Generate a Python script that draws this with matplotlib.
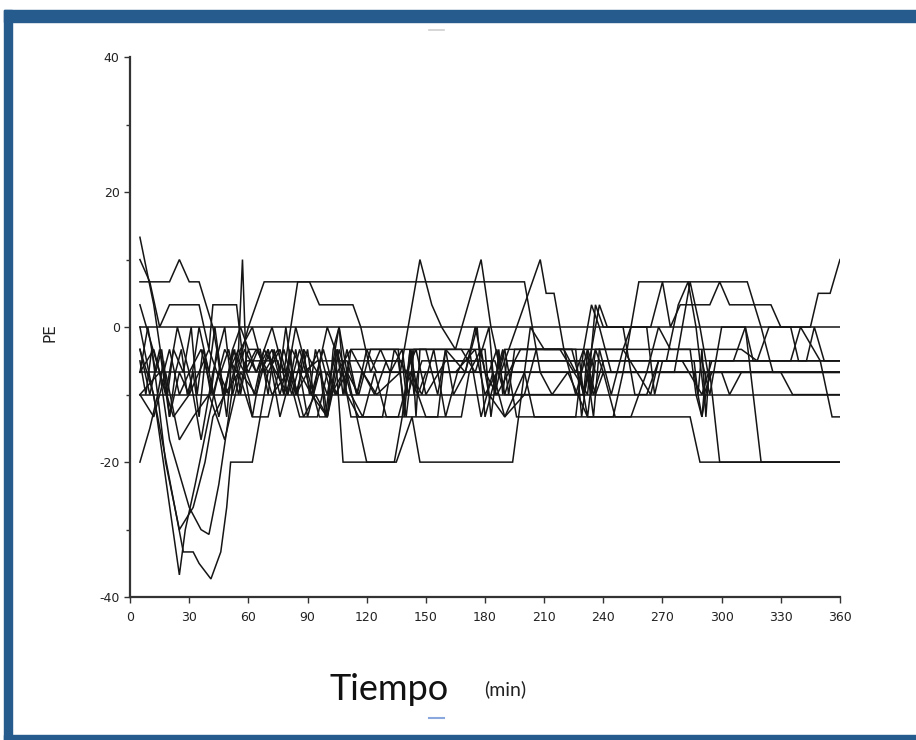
import matplotlib
matplotlib.use("Agg")
import matplotlib.pyplot as plt
from matplotlib.patches import Rectangle

# each series: vertex times (min) and PE values
a_t = [5, 12, 17, 20, 25, 30, 36, 42, 48, 54, 60, 68, 200, 204, 208, 214, 222, 232, 245, 250, 254, 258, 313, 320, 326, 360]
a_v = [13.3, 3.3, -6.7, -3.3, -10, -6.7, -3.3, -10, -3.3, -6.7, 0, 6.7, 6.7, 0, -6.7, -10, -6.7, -13.3, -13.3, -6.7, 0, 6.7, 6.7, 0, -6.7, -6.7]

b_t = [5, 360]
b_v = [0, 0]
c_t = [5, 360]
c_v = [-6.7, -6.7]
d_t = [5, 360]
d_v = [-10, -10]

e_t = [5, 10, 20, 25, 30, 35, 42, 46, 50, 55, 60, 64, 70, 76, 82, 88, 95, 110, 115, 120, 125, 140, 145, 150, 160, 185, 190, 195, 230, 235, 240, 280, 290, 295, 335, 340, 350, 360]
e_v = [10, 6.7, 6.7, 10, 6.7, 6.7, 0, -6.7, -3.3, -10, -3.3, -6.7, -3.3, -10, -3.3, -6.7, -5, -5, -10, -3.3, -6.7, -6.7, -3.3, -10, -5, -5, -10, -5, -5, -10, -5, -5, -10, -5, -5, 0, -5, -5]

f_t = [5, 10, 15, 20, 35, 40, 42, 54, 58, 62, 66, 72, 78, 84, 90, 96, 100, 105, 110, 116, 168, 172, 178, 182, 190, 200, 205, 284, 289, 360]
f_v = [6.7, 6.7, 0, 3.3, 3.3, -3.3, 3.3, 3.3, -6.7, -13.3, -6.7, -3.3, -10, 0, -6.7, -13.3, -13.3, -3.3, -10, -13.3, -13.3, -6.7, -3.3, -10, -13.3, -6.7, -13.3, -13.3, -20, -20]

g_t = [5, 10, 15, 20, 25, 30, 35, 40, 45, 50, 55, 57, 59, 63, 68, 74, 80, 84, 90, 96, 100, 106, 110, 115, 120, 134, 138, 142, 146, 150, 165, 175, 180, 186, 228, 232, 236, 240, 286, 290, 294, 299, 360]
g_v = [-3.3, -10, -3.3, -13.3, -6.7, -10, 0, -6.7, -13.3, -6.7, -3.3, 10, -6.7, -10, -3.3, -6.7, -10, -3.3, -13.3, -6.7, -10, 0, -6.7, -13.3, -20, -20, -13.3, -3.3, -10, -6.7, -6.7, -3.3, -10, -6.7, -6.7, -13.3, -3.3, -6.7, -6.7, -13.3, -6.7, -20, -20]

h_t = [5, 12, 18, 24, 30, 36, 42, 48, 52, 58, 64, 72, 78, 85, 91, 96, 113, 117, 122, 127, 132, 138, 141, 144, 182, 186, 190, 230, 234, 238, 242, 262, 266, 270, 274, 290, 294, 300, 312, 320, 360]
h_v = [-6.7, -3.3, -10, 0, -6.7, -16.7, -6.7, 0, -10, -3.3, -6.7, 0, -6.7, 6.7, 6.7, 3.3, 3.3, 0, -6.7, -3.3, -6.7, -3.3, -10, -6.7, -6.7, -3.3, -10, -10, -3.3, 3.3, 0, 0, -10, -5, -5, -5, -10, 0, 0, -20, -20]

i_t = [5, 12, 25, 28, 33, 40, 45, 50, 55, 60, 65, 72, 80, 86, 95, 100, 105, 110, 115, 118, 125, 137, 147, 153, 158, 165, 178, 183, 188, 208, 211, 215, 220, 226, 232, 236, 260, 276, 280, 284, 289, 293, 300, 304, 310, 360]
i_v = [-3.3, -10, -36.7, -30, -23.3, -13.3, -6.7, -10, -3.3, -6.7, -3.3, -10, -6.7, -13.3, -13.3, -6.7, -10, -3.3, -10, -6.7, -10, -6.7, 10, 3.3, 0, -3.3, 10, 0, -6.7, 10, 5, 5, -3.3, -10, -3.3, -6.7, -6.7, -6.7, 0, 6.7, 0, -6.7, -6.7, -10, -6.7, -6.7]

j_t = [5, 14, 27, 32, 35, 41, 46, 49, 51, 62, 66, 70, 76, 82, 88, 95, 100, 104, 108, 135, 143, 147, 194, 203, 210, 218, 232, 236, 240, 250, 256, 262, 268, 272, 278, 283, 287, 291, 295, 360]
j_v = [0, -13.3, -33.3, -33.3, -35, -37.3, -33.3, -26.7, -20, -20, -13.3, -6.7, -3.3, -10, -3.3, -6.7, 0, -3.3, -20, -20, -13.3, -20, -20, 0, -3.3, -3.3, -10, 3.3, 0, 0, -10, -10, -5, -5, 3.3, 6.7, 0, -10, -6.7, -6.7]

k_t = [5, 15, 20, 30, 36, 40, 45, 50, 53, 56, 62, 68, 75, 80, 86, 92, 98, 104, 110, 116, 122, 140, 150, 156, 160, 170, 175, 180, 186, 192, 198, 238, 244, 250, 254, 264, 270, 274, 279, 294, 299, 304, 325, 330, 335, 339, 343, 347, 352, 360]
k_v = [3.3, -6.7, -16.7, -26.7, -30, -30.7, -23.3, -13.3, -6.7, -3.3, 0, -6.7, -3.3, -10, -3.3, -10, -3.3, -10, -6.7, -10, -3.3, -3.3, -3.3, -10, -3.3, -6.7, 0, -6.7, -10, -6.7, -3.3, -3.3, -10, -3.3, 0, 0, 6.7, 0, 3.3, 3.3, 6.7, 3.3, 3.3, 0, 0, -5, -5, 0, -5, -5]

l_t = [5, 10, 14, 18, 25, 32, 38, 42, 48, 52, 58, 64, 70, 86, 92, 100, 105, 112, 118, 124, 130, 136, 140, 144, 168, 175, 182, 185, 190, 200, 220, 226, 230, 234, 238, 244, 330, 336, 360]
l_v = [-20, -15, -10, -20, -30, -26.7, -20, -13.3, -10, -3.3, -6.7, -3.3, -6.7, -6.7, -10, -13.3, -6.7, -3.3, -6.7, -10, -5, -5, -13.3, -3.3, -3.3, -6.7, 0, -10, -3.3, -3.3, -3.3, -6.7, -3.3, 3.3, 0, -6.7, -6.7, -10, -10]

m_t = [5, 15, 22, 30, 40, 48, 55, 62, 70, 78, 84, 90, 96, 102, 108, 112, 118, 128, 134, 140, 146, 150, 156, 160, 164, 170, 176, 180, 186, 190, 196, 200, 212, 226, 230, 236, 240, 246, 254, 262, 268, 274, 310, 318, 324, 345, 349, 355, 360]
m_v = [-10, -6.7, -13.3, -10, -3.3, -10, -6.7, -13.3, -13.3, -3.3, -10, -6.7, -3.3, -10, -6.7, -13.3, -13.3, -13.3, -3.3, -6.7, -10, -13.3, -13.3, -3.3, -10, -6.7, 0, -13.3, -6.7, -3.3, -13.3, -13.3, -13.3, -13.3, -3.3, -10, -6.7, -13.3, -13.3, -6.7, 0, -3.3, -3.3, -5, 0, 0, 5, 5, 10]

n_t = [5, 12, 18, 25, 32, 40, 48, 56, 64, 70, 76, 82, 88, 94, 100, 106, 112, 118, 124, 130, 136, 142, 148, 154, 160, 166, 172, 178, 184, 190, 200, 206, 212, 218, 224, 230, 236, 244, 250, 264, 268, 275, 300, 306, 312, 316, 350, 356, 360]
n_v = [-10, -13.3, -6.7, -16.7, -13.3, -10, -16.7, -6.7, -10, -3.3, -13.3, -6.7, -13.3, -10, -13.3, -3.3, -10, -13.3, -6.7, -13.3, -13.3, -6.7, -10, -3.3, -13.3, -6.7, -3.3, -13.3, -6.7, -13.3, -10, -3.3, -3.3, -3.3, -3.3, -10, -3.3, -3.3, -3.3, -10, -5, -5, -5, -5, 0, -5, -5, -13.3, -13.3]

o_t = [5, 8, 11, 14, 17, 20, 23, 26, 29, 32, 35, 38, 41, 44, 47, 50, 53, 56, 59, 75, 78, 81, 84, 87, 90, 93, 96, 99, 102, 105, 108, 111, 138, 140, 142, 144, 146, 148, 183, 185, 187, 189, 191, 228, 230, 232, 234, 236, 286, 288, 290, 292, 294, 360]
o_v = [-5, -10, -3.3, -10, -5, -13.3, -6.7, -3.3, -10, -6.7, -13.3, -5, -10, -3.3, -10, -6.7, -3.3, -10, -5, -5, -10, -3.3, -10, -6.7, -3.3, -10, -5, -13.3, -6.7, -3.3, -10, -5, -5, -10, -3.3, -10, -6.7, -5, -5, -10, -3.3, -10, -5, -5, -10, -3.3, -10, -5, -5, -10, -3.3, -13.3, -5, -5]

p_t = [5, 9, 13, 16, 19, 22, 27, 31, 34, 37, 40, 43, 46, 49, 52, 56, 60, 66, 70, 73, 76, 79, 82, 85, 88, 91, 94, 97, 100, 103, 106, 109, 112, 136, 139, 141, 143, 145, 147, 180, 183, 186, 189, 192, 195, 226, 229, 232, 235, 238, 284, 287, 290, 292, 295, 360]
p_v = [-6.7, 0, -6.7, -3.3, -10, -3.3, -6.7, 0, -10, -3.3, -6.7, 0, -6.7, -13.3, -3.3, 0, -3.3, -3.3, -10, -3.3, -6.7, 0, -6.7, -10, -3.3, -10, -3.3, -6.7, -13.3, -3.3, 0, -10, -3.3, -3.3, -13.3, -6.7, -3.3, -13.3, -3.3, -3.3, -13.3, -6.7, -3.3, -10, -3.3, -3.3, -13.3, -6.7, -13.3, -3.3, -3.3, -10, -13.3, -6.7, -6.7, -6.7]

x_ticks = [0, 30, 60, 90, 120, 150, 180, 210, 240, 270, 300, 330, 360]
y_ticks = [-40, -20, 0, 20, 40]
y_minor = [-30, -10, 10, 30]

series = [(a_t, a_v), (b_t, b_v), (c_t, c_v), (d_t, d_v), (e_t, e_v), (f_t, f_v),
          (g_t, g_v), (h_t, h_v), (i_t, i_v), (j_t, j_v), (k_t, k_v), (l_t, l_v),
          (m_t, m_v), (n_t, n_v), (o_t, o_v), (p_t, p_v)]

fig = plt.figure(figsize=(9.16, 7.4), dpi=100)
ax = fig.add_axes([0.142, 0.193, 0.775, 0.730])

for t, v in series:
    ax.plot(t, v, color='#151515', lw=1.1, solid_joinstyle='miter')

ax.set_xlim(0, 360)
ax.set_ylim(-40, 40)
ax.set_xticks(x_ticks)
ax.set_yticks(y_ticks)
ax.set_yticks(y_minor, minor=True)
ax.set_yticklabels([str(v) for v in y_ticks])
for s in ['top', 'right']:
    ax.spines[s].set_visible(False)
for s in ['left', 'bottom']:
    ax.spines[s].set_linewidth(1.6)
    ax.spines[s].set_color('#333333')
ax.tick_params(axis='both', which='major', length=4, width=1, color='#333333',
               labelsize=9, labelcolor='#222222')
ax.tick_params(axis='y', which='minor', length=3, width=1, color='#333333')
ax.tick_params(axis='x', pad=6)

fig.text(0.055, 0.55, 'PE', rotation=90, fontsize=11, color='#222222',
         ha='center', va='center')
fig.text(0.36, 0.068, 'Tiempo', fontsize=26, family='Lato', color='#111111',
         ha='left', va='center')
fig.text(0.529, 0.068, '(min)', fontsize=14, family='Lato', color='#222222',
         ha='left', va='center')

# blue frame
blue = '#265b8d'
fig.patches.append(Rectangle((0.0044, 0.970), 0.996, 0.016, transform=fig.transFigure,
                             color=blue, zorder=5))
fig.patches.append(Rectangle((0.0044, 0.0), 0.0087, 0.986, transform=fig.transFigure,
                             color=blue, zorder=5))
fig.patches.append(Rectangle((0.0044, 0.0), 0.996, 0.007, transform=fig.transFigure,
                             color=blue, zorder=5))
# small marks at top and under the axis title
fig.add_artist(plt.Line2D([0.468, 0.485], [0.959, 0.959], color='#cfcfcf', lw=1.2))
fig.add_artist(plt.Line2D([0.468, 0.485], [0.030, 0.030], color='#8aa8de', lw=1.5))

fig.savefig('out.png', dpi=100)
